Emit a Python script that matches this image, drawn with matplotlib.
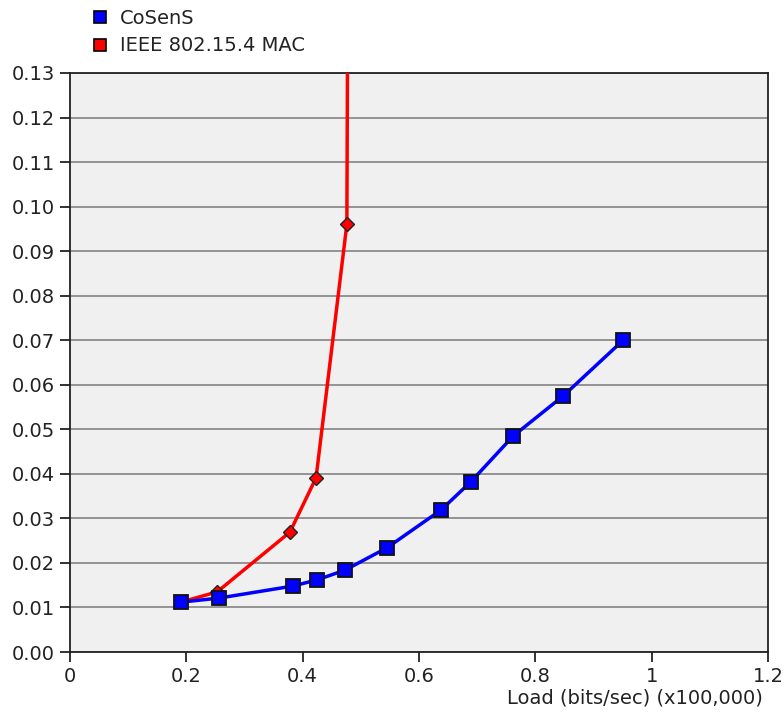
import matplotlib.pyplot as plt
from matplotlib.lines import Line2D
from matplotlib.ticker import FuncFormatter, MultipleLocator

# datos
cosens_x = [0.191, 0.256, 0.383, 0.425, 0.473, 0.545, 0.638, 0.689, 0.762, 0.848, 0.951]
cosens_y = [0.0112, 0.0121, 0.0148, 0.0162, 0.0184, 0.0234, 0.0319, 0.0382, 0.0485, 0.0575, 0.0700]
mac_x = [0.191, 0.253, 0.378, 0.423, 0.476, 0.479]
mac_y = [0.0112, 0.0135, 0.0269, 0.0391, 0.0961, 0.2000]
labels = ["CoSenS", "IEEE 802.15.4 MAC"]

plt.rcParams["font.family"] = "DejaVu Sans"

fig = plt.figure(figsize=(7.84, 7.24), dpi=100)
ax = fig.add_axes([70 / 784, 72 / 724, 698 / 784, 579 / 724])
ax.set_facecolor("#f0f0f0")

ax.plot(mac_x, mac_y, color="red", lw=2.5, zorder=3)
ax.plot(mac_x[1:-1], mac_y[1:-1], ls="none", marker="D", ms=7.5,
        mfc="red", mec="#222222", mew=1, zorder=4)
ax.plot(cosens_x, cosens_y, color="blue", lw=2.5, marker="s", ms=10,
        mfc="blue", mec="#111111", mew=1.3, zorder=5)

ax.set_xlim(0, 1.2)
ax.set_ylim(0, 0.13)
ax.xaxis.set_major_locator(MultipleLocator(0.2))
ax.yaxis.set_major_locator(MultipleLocator(0.01))
ax.xaxis.set_major_formatter(FuncFormatter(lambda v, p: "%g" % round(v, 2)))
ax.yaxis.set_major_formatter(FuncFormatter(lambda v, p: "%.2f" % v))
ax.yaxis.grid(True, color="#8c8c8c", lw=1.3)
ax.set_axisbelow(True)
ax.tick_params(direction="out", length=7, width=1.3, labelsize=14,
               colors="#222222", pad=4)
for s in ax.spines.values():
    s.set_color("#222222")
    s.set_linewidth(1.3)

fig.text(763 / 784, 1 - 698 / 724, "Load (bits/sec) (x100,000)", ha="right",
         va="center", fontsize=14, color="#222222")

handles = [Line2D([], [], ls="none", marker="s", ms=9, mfc=c, mec="black", mew=1.2)
           for c in ["blue", "red"]]
fig.legend(handles, labels, loc="upper left", bbox_to_anchor=(77 / 784, 1.006),
           frameon=False, fontsize=14, handletextpad=0.5, labelspacing=0.42,
           handlelength=1.0, borderpad=0.2, labelcolor="#222222")

plt.savefig("out.png", dpi=100)
